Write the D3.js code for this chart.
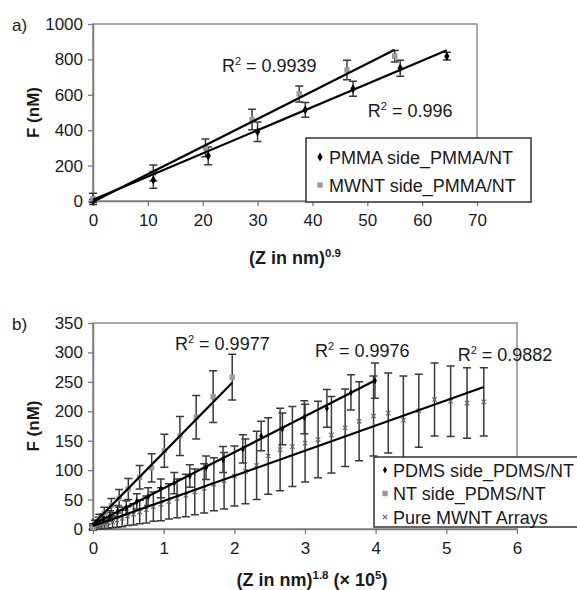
<!DOCTYPE html>
<html><head><meta charset="utf-8">
<script src="https://cdn.jsdelivr.net/npm/d3@7"></script>
<style>
body{margin:0;background:#fff}
svg{display:block}
text{font-family:"Liberation Sans",Arial,Helvetica,sans-serif;fill:#1a1a1a}
</style>
</head><body><svg id="c" width="577" height="590"></svg>
<script>
// ---------- Panel a data ----------
const aPmmaX   = [0, 11, 21, 30, 38.7, 47.4, 56, 64.5];
const aPmmaY   = [0, 119, 255, 391, 515, 634, 750, 818];
const aPmmaErr = [8, 47, 50, 55, 42, 42, 45, 22];
const aMwntX   = [0, 11, 20.5, 29, 37.6, 46.3, 55];
const aMwntY   = [12, 158, 300, 460, 605, 740, 818];
const aMwntErr = [32, 45, 50, 58, 45, 55, 32];
const aTrendSlope = [13.1, 15.6];
const aTrendIntercept = [7, -4];
const aTrendEnd = [64.5, 55];
const aR2 = ["0.9939", "0.996"];
const aXTicks = [0, 10, 20, 30, 40, 50, 60, 70];
const aYTicks = [0, 200, 400, 600, 800, 1000];
const aLegend = ["PMMA side_PMMA/NT", "MWNT side_PMMA/NT"];

// ---------- Panel b data ----------
const bPdmsX   = [0, 0.03, 0.08, 0.15, 0.24, 0.35, 0.47, 0.62, 0.78, 0.96, 1.15, 1.37, 1.6, 1.84, 2.12, 2.38, 2.68, 2.99, 3.31, 3.65, 3.99];
const bPdmsY   = [5, 10, 14, 18, 22, 30, 36, 47, 55, 69, 78, 90, 104, 118, 136, 158, 170, 190, 205, 232, 252];
const bPdmsErr = [4, 5, 6, 8, 9, 10, 12, 13, 15, 16, 18, 19, 20, 22, 24, 25, 27, 28, 32, 30, 30];
const bNtX   = [0, 0.04, 0.09, 0.16, 0.26, 0.37, 0.50, 0.66, 0.83, 1.01, 1.23, 1.46, 1.70, 1.97];
const bNtY   = [2, 9, 17, 27, 40, 52, 68, 88, 104, 133, 158, 190, 225, 258];
const bNtErr = [4, 6, 8, 10, 12, 15, 18, 20, 24, 28, 33, 37, 44, 39];
const bPureX = [0.007, 0.023, 0.047, 0.08, 0.118, 0.164, 0.216, 0.277, 0.341, 0.413,
                0.49, 0.573, 0.661, 0.755, 0.854, 0.962, 1.074, 1.19, 1.313, 1.44,
                1.573, 1.711, 1.855, 2.003, 2.157, 2.315, 2.48, 2.648, 2.822, 3.001,
                3.185, 3.374, 3.568, 3.766, 3.97, 4.178, 4.392, 4.61, 4.833, 5.061,
                5.293, 5.53];
const bPureY = [2, 3, 4, 5, 6, 8, 10, 12, 15, 18,
                22, 25, 29, 33, 38, 42, 47, 52, 57, 63,
                69, 76, 82, 90, 98, 108, 124, 135, 140, 146,
                152, 160, 172, 183, 192, 197, 185, 201, 220, 217,
                214, 216];
const bPureErr = [2, 3, 4, 5, 6, 7, 9, 10, 12, 14,
                  16, 18, 20, 23, 25, 28, 30, 33, 36, 39,
                  42, 45, 48, 51, 55, 58, 65, 70, 68, 66,
                  65, 65, 66, 67, 68, 68, 75, 62, 62, 60,
                  60, 58];
const bTrendSlope = [61.2, 122, 42.7];
const bTrendIntercept = [8, 8, 5];
const bTrendEnd = [3.99, 1.97, 5.53];
const bR2 = ["0.9977", "0.9976", "0.9882"];
const bXTicks = [0, 1, 2, 3, 4, 5, 6];
const bYTicks = [0, 50, 100, 150, 200, 250, 300, 350];
const bLegend = ["PDMS side_PDMS/NT", "NT side_PDMS/NT", "Pure MWNT Arrays"];

const svg = d3.select('#c');
const zip = (xs, ys, es) => xs.map((v, i) => ({x: v, y: ys[i], e: es[i]}));

function drawMarker(g, type, cx, cy, size) {
  if (type === 'diamond') {
    g.append('path').attr('d', d3.symbol(d3.symbolDiamond, size || 22)()).attr('transform', `translate(${cx},${cy})`).attr('fill', '#000');
  } else if (type === 'square') {
    g.append('rect').attr('x', cx - 2.7).attr('y', cy - 2.7).attr('width', 5.4).attr('height', 5.4).attr('fill', '#9a9a9a');
  } else {
    const s = 2.2;
    g.append('path').attr('d', `M${cx - s},${cy - s}L${cx + s},${cy + s}M${cx - s},${cy + s}L${cx + s},${cy - s}`)
      .attr('stroke', '#666').attr('stroke-width', 1.1).attr('fill', 'none');
  }
}

function panel(cfg) {
  const x = d3.scaleLinear().domain(cfg.xDomain).range([cfg.left, cfg.right]);
  const y = d3.scaleLinear().domain(cfg.yDomain).range([cfg.bottom, cfg.top]);
  const g = svg.append('g');
  g.append('rect').attr('x', cfg.left).attr('y', cfg.top)
    .attr('width', cfg.right - cfg.left).attr('height', cfg.bottom - cfg.top)
    .attr('fill', 'none').attr('stroke', '#8c8c8c').attr('stroke-width', 1.5);

  const fmt = d => String(d);
  const xa = g.append('g').attr('transform', `translate(0,${cfg.bottom})`)
    .call(d3.axisBottom(x).tickValues(cfg.xTicks).tickFormat(fmt).tickSize(5).tickSizeOuter(0).tickPadding(8));
  const ya = g.append('g').attr('transform', `translate(${cfg.left},0)`)
    .call(d3.axisLeft(y).tickValues(cfg.yTicks).tickFormat(fmt).tickSize(5).tickSizeOuter(0).tickPadding(5));
  [xa, ya].forEach(a => {
    a.select('.domain').attr('stroke', '#7a7a7a').attr('stroke-width', 1.5);
    a.selectAll('.tick line').attr('stroke', '#7a7a7a').attr('stroke-width', 1.3);
    a.selectAll('.tick text').attr('font-size', 17).attr('fill', '#1a1a1a')
      .attr('font-family', '"Liberation Sans",Arial,sans-serif');
  });

  // error bars
  cfg.series.forEach(s => {
    const eb = g.append('g').attr('stroke', '#3a3a3a').attr('stroke-width', 1.5).attr('fill', 'none');
    s.data.forEach(d => {
      const px = x(d.x), y1 = y(d.y + d.e), y2 = y(d.y - d.e);
      eb.append('path').attr('d', `M${px},${y1}V${y2}M${px - 4},${y1}H${px + 4}M${px - 4},${y2}H${px + 4}`);
    });
  });
  // markers
  cfg.series.forEach(s => {
    const mg = g.append('g');
    s.data.forEach(d => drawMarker(mg, s.marker, x(d.x), y(d.y), cfg.diamondSize));
  });
  // trend lines
  cfg.trends.forEach(t => {
    g.append('line').attr('x1', x(0)).attr('y1', y(t.b))
      .attr('x2', x(t.end)).attr('y2', y(t.b + t.m * t.end))
      .attr('stroke', '#000').attr('stroke-width', 2.2);
  });
  // R2 labels
  cfg.r2.forEach(r => {
    const t = g.append('text').attr('x', x(r.x)).attr('y', y(r.y)).attr('font-size', 18);
    t.append('tspan').text('R');
    t.append('tspan').text('2').attr('font-size', 11).attr('dy', -7);
    t.append('tspan').text(' = ' + r.v).attr('dy', 7);
  });
  // legend
  const L = cfg.legend;
  const lg = g.append('g');
  lg.append('rect').attr('x', L.x).attr('y', L.y).attr('width', L.w).attr('height', L.h)
    .attr('fill', '#fff').attr('stroke', '#333').attr('stroke-width', 1.5);
  L.items.forEach((it, i) => {
    const cy = L.y + L.first + i * L.step;
    drawMarker(lg, it.marker, L.x + L.mx, cy, cfg.diamondSize);
    lg.append('text').attr('x', L.x + L.tx).attr('y', cy + 6.5).attr('font-size', 18).text(it.label);
  });
  // axis titles
  g.append('text').attr('transform', `translate(33,${(cfg.top + cfg.bottom) / 2}) rotate(-90)`)
    .attr('text-anchor', 'middle').attr('dy', '0.35em').attr('font-size', 17).attr('font-weight', 'bold').text('F (nM)');
  const xt = g.append('text').attr('x', cfg.xTitleX).attr('y', cfg.xTitleY)
    .attr('text-anchor', 'middle').attr('font-size', 18).attr('font-weight', 'bold');
  cfg.xTitle.forEach(p => {
    const ts = xt.append('tspan').text(p.t);
    if (p.sup) ts.attr('font-size', 11.5).attr('dy', -7);
    else if (p.after) ts.attr('dy', 7);
  });
  g.append('text').attr('x', 12).attr('y', cfg.top + 7).attr('font-size', 17).text(cfg.tag);
}

panel({
  tag: 'a)', left: 93, right: 477, top: 24, bottom: 201, diamondSize: 24,
  xDomain: [0, 70], yDomain: [0, 1000], xTicks: aXTicks, yTicks: aYTicks,
  series: [
    {marker: 'diamond', data: zip(aPmmaX, aPmmaY, aPmmaErr)},
    {marker: 'square', data: zip(aMwntX, aMwntY, aMwntErr)}
  ],
  trends: aTrendSlope.map((m, i) => ({m, b: aTrendIntercept[i], end: aTrendEnd[i]})),
  r2: [{v: aR2[0], x: 23.5, y: 729}, {v: aR2[1], x: 50.1, y: 475}],
  legend: {x: 306, y: 138, w: 225, h: 64, first: 19, step: 28, mx: 14, tx: 23,
           items: [{marker: 'diamond', label: aLegend[0]}, {marker: 'square', label: aLegend[1]}]},
  xTitleX: 295, xTitleY: 264,
  xTitle: [{t: '(Z in nm)'}, {t: '0.9', sup: true}]
});

panel({
  tag: 'b)', left: 93, right: 517, top: 323, bottom: 529, diamondSize: 14,
  xDomain: [0, 6], yDomain: [0, 350], xTicks: bXTicks, yTicks: bYTicks,
  series: [
    {marker: 'cross', data: zip(bPureX, bPureY, bPureErr)},
    {marker: 'diamond', data: zip(bPdmsX, bPdmsY, bPdmsErr)},
    {marker: 'square', data: zip(bNtX, bNtY, bNtErr)}
  ],
  trends: bTrendSlope.map((m, i) => ({m, b: bTrendIntercept[i], end: bTrendEnd[i]})),
  r2: [{v: bR2[0], x: 1.16, y: 304}, {v: bR2[1], x: 3.14, y: 292}, {v: bR2[2], x: 5.16, y: 285}],
  legend: {x: 374, y: 457, w: 215, h: 70, first: 13, step: 23.5, mx: 11, tx: 19,
           items: [{marker: 'diamond', label: bLegend[0]}, {marker: 'square', label: bLegend[1]}, {marker: 'cross', label: bLegend[2]}]},
  xTitleX: 312, xTitleY: 586,
  xTitle: [{t: '(Z in nm)'}, {t: '1.8', sup: true}, {t: ' (\u00d7 10', after: true}, {t: '5', sup: true}, {t: ')', after: true}]
});
</script>
</body></html>
